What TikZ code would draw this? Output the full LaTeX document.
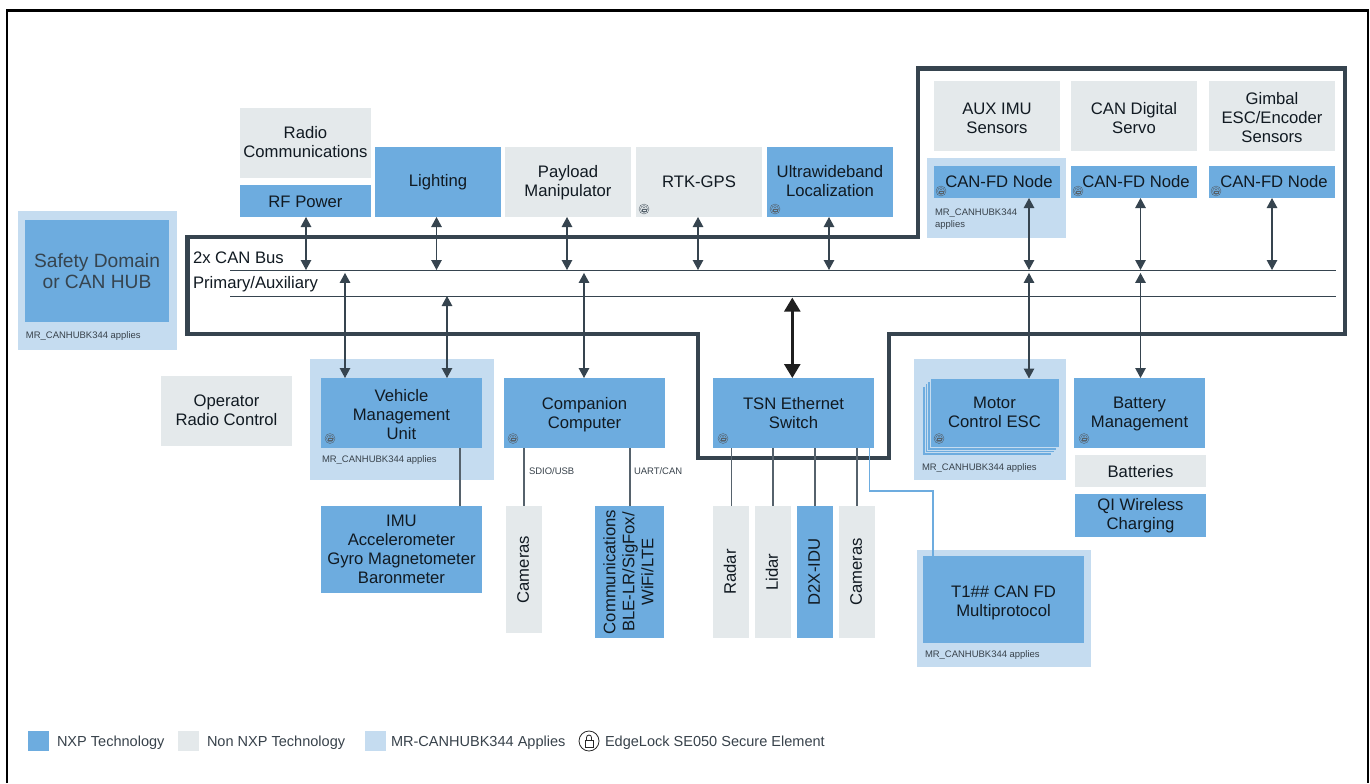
\documentclass[tikz,border=0pt]{standalone}
\usepackage{fontspec}
\usepackage{graphicx}
\setmainfont{Liberation Sans}
\usetikzlibrary{arrows.meta}
\definecolor{nxpblue}{HTML}{6DACDF}
\definecolor{nonnxp}{HTML}{E4E9EB}
\definecolor{appliesblue}{HTML}{C5DCF0}
\definecolor{framedark}{HTML}{36444F}
\definecolor{linkgrey}{HTML}{56626C}
\definecolor{inktext}{HTML}{111A22}
\definecolor{smalltext}{HTML}{38424B}
\newcommand\mainfs{\fontsize{12.5}{14.25}\selectfont}
\newcommand\smallfs{\fontsize{7.1}{9}\selectfont}
\newcommand\legendfs{\fontsize{10.9}{12}\selectfont}
\tikzset{
  x=0.75pt, y=-0.75pt,
  boxbase/.style={inner sep=0pt, outer sep=0pt, text=inktext, align=center, font=\mainfs},
  nxpbox/.style={boxbase, fill=nxpblue},
  nonbox/.style={boxbase, fill=nonnxp},
  appliesbox/.style={boxbase, fill=appliesblue},
  stackbox/.style={boxbase, fill=nxpblue, draw=appliesblue, line width=0.75pt},
  biarrow/.style={line width=0.85pt, {Triangle[width=7.9pt,length=7.5pt]}-{Triangle[width=7.9pt,length=7.5pt]}, color=framedark},
  bigarrow/.style={line width=2pt, {Triangle[width=12pt,length=10.5pt]}-{Triangle[width=12pt,length=10.5pt]}, color=black!88},
  link/.style={draw=linkgrey, line width=0.85pt},
  bluelink/.style={draw=nxpblue, line width=0.9pt},
  busline/.style={draw=framedark, line width=0.75pt},
  thickframe/.style={draw=framedark, line width=3.4pt, miter limit=10},
  pageframe/.style={draw=black, line width=1.9pt},
  tinylabel/.style={inner sep=0pt, outer sep=0pt, anchor=west, text=smalltext, font=\smallfs, align=left},
  sidelabel/.style={inner sep=0pt, outer sep=0pt, anchor=west, text=inktext, font=\mainfs},
  legendlabel/.style={inner sep=0pt, outer sep=0pt, anchor=west, text=smalltext, font=\legendfs},
  lockline/.style={draw=linkgrey, line width=0.3pt},
  legendlock/.style={draw=black!85, line width=0.6pt},
}
% name, x1, y1, x2, y2, style, text
\newcommand\bx[7]{\node[#6, minimum width={(#4-#2)*0.75pt}, minimum height={(#5-#3)*0.75pt}] (#1) at ({(#2+#4)/2},{(#3+#5)/2}) {#7};}
% x, y, radius, style
\newcommand\lockmark[4]{%
  \draw[#4] (#1,#2) circle[radius=#3];
  \draw[#4] (#1,#2) circle[radius=0.68*#3];
  \draw[#4] ({#1-0.34*#3},{#2-0.02*#3}) rectangle ({#1+0.34*#3},{#2+0.4*#3});
  \draw[#4] ({#1-0.2*#3},{#2-0.02*#3}) -- ({#1-0.2*#3},{#2-0.22*#3}) arc[start angle=180,end angle=360,radius=0.2*#3] -- ({#1+0.2*#3},{#2-0.02*#3});
}
\newcommand\sideways[1]{\hspace*{1.6pt}\rotatebox{90}{\begin{tabular}{@{}c@{}}#1\end{tabular}}}
% move a text down by #1 reference pixels, leaving the box in place
\newcommand\dropped[2]{\raisebox{\dimexpr-#1\dimexpr0.75pt\relax-3.1pt\relax}[0pt][0pt]{\begin{tabular}{@{}c@{}}#2\end{tabular}}}
\begin{document}
\begin{tikzpicture}
\useasboundingbox (0,0) rectangle (1370,783);
\fill[white] (0,0) rectangle (1370,783);
% page frame
\draw[pageframe] (7,783) -- (7,10.3) -- (1368,10.3) -- (1368,783);
% applies backgrounds
\bx{lsafety}{18}{211}{177}{350}{appliesbox}{}
\bx{lnode}{927}{158}{1066}{238}{appliesbox}{}
\bx{lvmu}{310}{359}{494}{480}{appliesbox}{}
\bx{lmotor}{914}{359}{1066}{480}{appliesbox}{}
\bx{lt}{917}{550}{1091}{667}{appliesbox}{}
% thick bus frame
\draw[thickframe] (918,68.5) -- (1345,68.5) -- (1345,334) -- (889,334) -- (889,458) -- (698,458) -- (698,334) -- (187.7,334) -- (187.7,237) -- (918,237) -- cycle;
% bus lines
\coordinate (busAl) at (230,270);
\coordinate (busAr) at (1336,270);
\coordinate (busBl) at (230,296);
\coordinate (busBr) at (1336,296);
\draw[busline] (busAl) -- (busAr);
\draw[busline] (busBl) -- (busBr);
\node[sidelabel] (lblbus) at (193,258) {2x CAN Bus};
\node[sidelabel] (lblprim) at (193,284) {Primary/Auxiliary};
% top row
\bx{radio}{240}{108}{371}{178}{nonbox}{\dropped{1}{Radio\\Communications}}
\bx{rf}{240}{185}{371}{217}{nxpbox}{\dropped{3}{RF Power}}
\bx{lighting}{375}{147}{501}{217}{nxpbox}{Lighting}
\bx{payload}{505}{147}{631}{217}{nonbox}{\dropped{1}{Payload\\Manipulator}}
\bx{rtk}{636}{147}{762}{217}{nonbox}{RTK-GPS}
\bx{uwb}{767}{147}{893}{217}{nxpbox}{\dropped{1}{Ultrawideband\\Localization}}
\bx{aux}{934}{81}{1060}{151}{nonbox}{\dropped{4}{AUX IMU\\Sensors}}
\bx{servo}{1071}{81}{1197}{151}{nonbox}{\dropped{4.5}{CAN Digital\\Servo}}
\bx{gimbal}{1209}{81}{1335}{151}{nonbox}{\dropped{4}{Gimbal\\ESC/Encoder\\Sensors}}
\bx{nodea}{934}{166}{1060}{198}{nxpbox}{\hspace*{3pt}CAN-FD Node}
\bx{nodeb}{1071}{166}{1197}{198}{nxpbox}{\hspace*{3pt}CAN-FD Node}
\bx{nodec}{1209}{166}{1335}{198}{nxpbox}{\hspace*{3pt}CAN-FD Node}
% safety
\bx{safety}{25}{220}{169}{322}{nxpbox,text=framedark,font=\fontsize{14.4}{15.75}\selectfont}{Safety Domain\\or CAN HUB}
% lower row
\bx{operator}{161}{376}{292}{446}{nonbox}{\dropped{1}{Operator\\Radio Control}}
\bx{vmu}{321}{378}{482}{448}{nxpbox}{\dropped{4}{Vehicle\\Management\\Unit}}
\bx{imu}{321}{506}{482}{593}{nxpbox}{IMU\\Accelerometer\\Gyro Magnetometer\\Baronmeter}
\bx{companion}{504}{378}{665}{448}{nxpbox}{\dropped{2}{Companion\\Computer}}
\bx{camsa}{506}{506}{542}{633}{nonbox}{\sideways{Cameras}}
\bx{comms}{595}{506}{664}{638}{nxpbox}{\sideways{Communications\\BLE-LR/SigFox/\\WiFi/LTE}}
\bx{tsn}{713}{378}{874}{448}{nxpbox}{\dropped{2}{TSN Ethernet\\Switch}}
\bx{radar}{713}{506}{749}{638}{nonbox}{\sideways{Radar}}
\bx{lidar}{755}{506}{791}{638}{nonbox}{\sideways{Lidar}}
\bx{dtwox}{797}{506}{833}{638}{nxpbox}{\sideways{D2X-IDU}}
\bx{camsb}{839}{506}{875}{638}{nonbox}{\sideways{Cameras}}
\bx{stackc}{922}{386}{1051}{455}{stackbox}{}
\bx{stackb}{925}{383.5}{1054}{452.5}{stackbox}{}
\bx{stacka}{927.5}{381}{1056.5}{450}{stackbox}{}
\bx{motor}{930}{378.5}{1059}{447}{stackbox}{Motor\\Control ESC}
\bx{battery}{1074}{378}{1205}{448}{nxpbox}{\dropped{1}{Battery\\Management}}
\bx{batteries}{1075}{455}{1206}{487}{nonbox}{\dropped{3}{Batteries}}
\bx{qi}{1075}{494}{1206}{537}{nxpbox}{QI Wireless\\Charging}
\bx{tone}{923}{556}{1084}{643}{nxpbox}{\dropped{3.5}{T1\#\# CAN FD\\Multiprotocol}}
% small labels
\node[tinylabel] (asafety) at (26,336) {MR\_CANHUBK344 applies};
\node[tinylabel] (avmu) at (322,460) {MR\_CANHUBK344 applies};
\node[tinylabel] (amotor) at (922,468) {MR\_CANHUBK344 applies};
\node[tinylabel] (atone) at (925,655) {MR\_CANHUBK344 applies};
\node[tinylabel] (anode) at (935,219) {MR\_CANHUBK344\\applies};
\node[tinylabel] (sdio) at (529,471) {SDIO/USB};
\node[tinylabel] (uart) at (634,471) {UART/CAN};
% arrow columns
\coordinate (ca) at (306,0);
\coordinate (cb) at (436.5,0);
\coordinate (cc) at (567,0);
\coordinate (cd) at (698,0);
\coordinate (ce) at (829,0);
\coordinate (cf) at (1029,0);
\coordinate (cg) at (1140.5,0);
\coordinate (ch) at (1272,0);
\coordinate (ci) at (345,0);
\coordinate (cj) at (447,0);
\coordinate (ck) at (584,0);
\coordinate (cl) at (792.3,0);
% arrows to bus A
\draw[biarrow] (rf.south -| ca) -- (busAl -| ca);
\draw[biarrow] (lighting.south -| cb) -- (busAl -| cb);
\draw[biarrow] (payload.south -| cc) -- (busAl -| cc);
\draw[biarrow] (rtk.south -| cd) -- (busAl -| cd);
\draw[biarrow] (uwb.south -| ce) -- (busAl -| ce);
\draw[biarrow] (nodea.south -| cf) -- (busAl -| cf);
\draw[biarrow] (nodeb.south -| cg) -- (busAl -| cg);
\draw[biarrow] (nodec.south -| ch) -- (busAl -| ch);
% arrows from the buses to the lower row
\draw[biarrow,shorten <=2.2pt] (busAl -| ci) -- (vmu.north -| ci);
\draw[biarrow] (busBl -| cj) -- (vmu.north -| cj);
\draw[biarrow,shorten <=2.2pt] (busAl -| ck) -- (companion.north -| ck);
\draw[biarrow,shorten <=2.2pt] (busAl -| cf) -- (motor.north -| cf);
\draw[biarrow,shorten <=2.2pt] (busAl -| cg) -- (battery.north -| cg);
\draw[bigarrow,shorten <=1.2pt] (busBl -| cl) -- (tsn.north -| cl);
% plain links
\coordinate (la) at (460,0);
\coordinate (lb) at (524,0);
\coordinate (lc) at (630,0);
\coordinate (ld) at (731.5,0);
\coordinate (le) at (773,0);
\coordinate (lf) at (815,0);
\coordinate (lg) at (857,0);
\coordinate (lh) at (869.5,0);
\coordinate (li) at (933,0);
\coordinate (lj) at (0,491);
\draw[link] (vmu.south -| la) -- (imu.north -| la);
\draw[link] (companion.south -| lb) -- (camsa.north -| lb);
\draw[link] (companion.south -| lc) -- (comms.north -| lc);
\draw[link] (tsn.south -| ld) -- (radar.north -| ld);
\draw[link] (tsn.south -| le) -- (lidar.north -| le);
\draw[link] (tsn.south -| lf) -- (dtwox.north -| lf);
\draw[link] (tsn.south -| lg) -- (camsb.north -| lg);
\draw[bluelink] (tsn.south -| lh) -- (lh |- lj) -- (li |- lj) -- (tone.north -| li);
% secure element marks
\lockmark{644}{209}{5}{lockline}
\lockmark{775}{209}{5}{lockline}
\lockmark{941}{191}{5}{lockline}
\lockmark{1078}{191}{5}{lockline}
\lockmark{1216}{191}{5}{lockline}
\lockmark{330}{438.5}{5}{lockline}
\lockmark{513}{438.5}{5}{lockline}
\lockmark{723}{438.5}{5}{lockline}
\lockmark{939}{438.5}{5}{lockline}
\lockmark{1084}{438.5}{5}{lockline}
% legend
\bx{lega}{28}{731}{49}{751}{nxpbox}{}
\bx{legb}{178}{731}{199}{751}{nonbox}{}
\bx{legc}{365}{731}{386}{751}{appliesbox}{}
\node[legendlabel] (lta) at (57,742.5) {NXP Technology};
\node[legendlabel] (ltb) at (207,742.5) {Non NXP Technology};
\node[legendlabel] (ltc) at (391,742.5) {MR-CANHUBK344 Applies};
\node[legendlabel] (ltd) at (605,742.5) {EdgeLock SE050 Secure Element};
\draw[legendlock] (589,741) circle[radius=10];
\draw[legendlock] (585,740.5) rectangle (593,747);
\draw[legendlock] (586.5,740.5) -- (586.5,737.5) arc[start angle=180,end angle=360,radius=2.5] -- (591.5,740.5);
\end{tikzpicture}
\end{document}
